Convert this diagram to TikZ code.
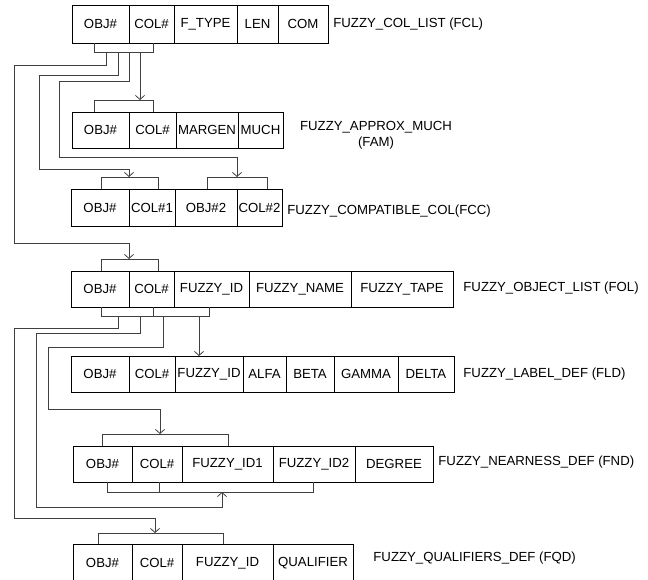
\documentclass[tikz,border=0pt]{standalone}
\usepackage{fontspec}
\setmainfont{Liberation Sans}
\usetikzlibrary{arrows.meta}

\begin{document}
\begin{tikzpicture}[x=1pt,y=-1pt,font=\fontsize{13.2}{16}\selectfont,line width=0.8pt]
  \tikzset{cell/.style={draw,anchor=north west,inner sep=0pt,outer sep=0pt,minimum height=36pt},
    link/.style={draw=black!75},
    feed/.style={link,-{Straight Barb[length=4pt,width=9pt]}},
    title/.style={anchor=west,inner sep=0pt}}
  \useasboundingbox (0,0) rectangle (648,580);

  % tables
  \foreach \x/\w/\t [count=\i] in {72/57/OBJ\#,129/45/COL\#,174/63/F\_TYPE,237/41/LEN,278/50/COM}
    \node[cell,minimum width=\w,minimum height=38] (fcl-\i) at (\x,5) {\t};
  \node[title] (fcl-name) at (333,24) {FUZZY\_COL\_LIST (FCL)};

  \foreach \x/\w/\t [count=\i] in {72/57/OBJ\#,129/47/COL\#,176/62/MARGEN,238/45/MUCH}
    \node[cell,minimum width=\w] (fam-\i) at (\x,112) {\t};
  \node[align=center,inner sep=0pt] (fam-name) at (376,135) {FUZZY\_APPROX\_MUCH\\(FAM)};

  \foreach \x/\w/\t [count=\i] in {71/58/OBJ\#,129/46/COL\#1,175/62/OBJ\#2,237/45/COL\#2}
    \node[cell,minimum width=\w,minimum height=37] (fcc-\i) at (\x,189) {\t};
  \node[title] (fcc-name) at (287,211) {FUZZY\_COMPATIBLE\_COL(FCC)};

  \foreach \x/\w/\t [count=\i] in {71/58/OBJ\#,129/45/COL\#,174/75/FUZZY\_ID,249/102/FUZZY\_NAME,351/102/FUZZY\_TAPE}
    \node[cell,minimum width=\w] (fol-\i) at (\x,271) {\t};
  \node[title] (fol-name) at (463,288) {FUZZY\_OBJECT\_LIST (FOL)};

  \foreach \x/\w/\t [count=\i] in {71/58/OBJ\#,129/46/COL\#,175/68/FUZZY\_ID,243/43/ALFA,286/48/BETA,334/64/GAMMA,398/56/DELTA}
    \node[cell,minimum width=\w] (fld-\i) at (\x,356) {\t};
  \node[title] (fld-name) at (463,374) {FUZZY\_LABEL\_DEF (FLD)};

  \foreach \x/\w/\t [count=\i] in {73/59/OBJ\#,132/50/COL\#,182/91/FUZZY\_ID1,273/82/FUZZY\_ID2,355/78/DEGREE}
    \node[cell,minimum width=\w] (fnd-\i) at (\x,446) {\t};
  \node[title] (fnd-name) at (438,462) {FUZZY\_NEARNESS\_DEF (FND)};

  \foreach \x/\w/\t [count=\i] in {73/59/OBJ\#,132/50/COL\#,182/91/FUZZY\_ID,273/80/QUALIFIER}
    \node[cell,minimum width=\w,minimum height=38] (fqd-\i) at (\x,544) {\t};
  \node[title] (fqd-name) at (373,558) {FUZZY\_QUALIFIERS\_DEF (FQD)};

  % key brackets
  \draw[link] (94,43) |- (153,52) -- (153,43);
  \draw[link] (94,112) |- (153,100) -- (153,112);
  \draw[link] (101,189) |- (158,177) -- (158,189);
  \draw[link] (207,189) |- (267,177) -- (267,189);
  \draw[link] (101,271) |- (158,259) -- (158,271);
  \draw[link] (101,307) |- (209,316) -- (209,307) (153,307) -- (153,316);
  \draw[link] (102,446) |- (228,434) -- (228,446);
  \draw[link] (107,482) |- (313,492) -- (313,482) (159,482) -- (159,492);
  \draw[link] (98,544) |- (223,533) -- (223,544);

  % taps and targets
  \coordinate (fcl-t1) at (106,52);
  \coordinate (fcl-t2) at (118,52);
  \coordinate (fcl-t3) at (129,52);
  \coordinate (fcl-t4) at (140,52);
  \coordinate (fam-in) at (140,100);
  \coordinate (fcc-in1) at (129,177);
  \coordinate (fcc-in2) at (237,177);
  \coordinate (fol-in) at (129,259);
  \coordinate (fol-t1) at (118,316);
  \coordinate (fol-t2) at (140,316);
  \coordinate (fol-t3) at (163,316);
  \coordinate (fol-t4) at (199,316);
  \coordinate (fld-in) at (199,356);
  \coordinate (fnd-in) at (160,434);
  \coordinate (fnd-in2) at (222,492);
  \coordinate (fqd-in) at (155,533);

  % references
  \draw[feed] (fcl-t1) -- ++(0,13) -| (14,243) -| (fol-in);
  \draw[feed] (fcl-t2) -- ++(0,23) -| (39,169) -| (fcc-in1);
  \draw[feed] (fcl-t3) -- ++(0,29) -| (59,157) -| (fcc-in2);
  \draw[feed] (fcl-t4) -- (fam-in);
  \draw[feed] (fol-t1) -- ++(0,12) -| (14,518) -| (fqd-in);
  \draw[feed] (fol-t2) -- ++(0,17) -| (36,507) -| (fnd-in2);
  \draw[feed] (fol-t3) -- ++(0,31) -| (48,409) -| (fnd-in);
  \draw[feed] (fol-t4) -- (fld-in);
\end{tikzpicture}
\end{document}
